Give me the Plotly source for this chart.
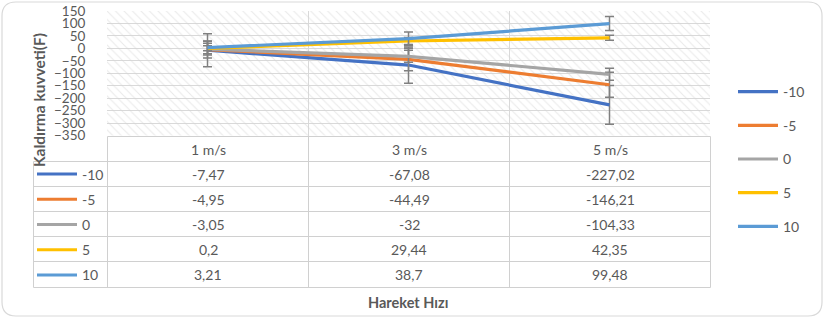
import plotly.graph_objects as go

categories = ["1 m/s", "3 m/s", "5 m/s"]
series_names = ["-10", "-5", "0", "5", "10"]
values = {
    "-10": [-7.47, -67.08, -227.02],
    "-5": [-4.95, -44.49, -146.21],
    "0": [-3.05, -32, -104.33],
    "5": [0.2, 29.44, 42.35],
    "10": [3.21, 38.7, 99.48],
}
errors = {
    "-10": [66, 73, 78],
    "-5": [34, 45, 50],
    "0": [24, 24, 24],
    "5": [10, 14, 10],
    "10": [25, 27, 28],
}
colors = {"-10": "#4472C4", "-5": "#ED7D31", "0": "#A5A5A5", "5": "#FFC000", "10": "#5B9BD5"}
y_min, y_max, y_step = -350, 150, 50

W, H = 825, 319
FONT = "Lato"
TXT = "#595959"
GRID = "#d9d9d9"

def px(x):
    return x / W

def py(y):
    return 1 - y / H

fig = go.Figure()

# hatched plot background
fig.add_trace(go.Bar(
    x=categories, y=[y_max - y_min] * len(categories), base=[y_min] * len(categories),
    width=1, marker=dict(color="rgba(0,0,0,0)", line=dict(width=0),
                         pattern=dict(shape="\\", fgcolor="#d4d4d4", bgcolor="rgba(0,0,0,0)",
                                      size=6, solidity=0.18)),
    showlegend=False, hoverinfo="skip"))

for name in series_names:
    fig.add_trace(go.Scatter(
        x=categories, y=values[name], mode="lines", name=name,
        line=dict(color=colors[name], width=3.2),
        error_y=dict(type="data", array=errors[name], visible=True,
                     color="#808080", thickness=1.5, width=4.5),
        legendgroup=name, legend="legend"))

# keys in the data table
for name in series_names:
    fig.add_trace(go.Scatter(
        x=[None], y=[None], mode="lines", name=name,
        line=dict(color=colors[name], width=3),
        legendgroup="t" + name, legend="legend2", hoverinfo="skip"))

plot_l, plot_r, plot_t, plot_b = 107, 710, 11, 135.5
row_edges = [136.5, 161.5, 186.5, 211.5, 236.5, 261.5, 287.5]
col_edges = [107.5, 308.5, 509.5, 710.5]
key_l = 33.5

shapes = []
# rounded outer border
r = 14
x0, y0, x1, y1 = 2, 2, 822, 316
path = (f"M {px(x0 + r)} {py(y0)} L {px(x1 - r)} {py(y0)} Q {px(x1)} {py(y0)} {px(x1)} {py(y0 + r)} "
        f"L {px(x1)} {py(y1 - r)} Q {px(x1)} {py(y1)} {px(x1 - r)} {py(y1)} "
        f"L {px(x0 + r)} {py(y1)} Q {px(x0)} {py(y1)} {px(x0)} {py(y1 - r)} "
        f"L {px(x0)} {py(y0 + r)} Q {px(x0)} {py(y0)} {px(x0 + r)} {py(y0)} Z")
shapes.append(dict(type="path", xref="paper", yref="paper", path=path,
                   line=dict(color="#d9d9d9", width=1.2)))

# table grid
for i, yy in enumerate(row_edges):
    xs = col_edges[0] if i == 0 else key_l
    shapes.append(dict(type="line", xref="paper", yref="paper", x0=px(xs), x1=px(col_edges[-1]),
                       y0=py(yy), y1=py(yy), line=dict(color="#d0d0d0", width=1)))
for xx in col_edges:
    shapes.append(dict(type="line", xref="paper", yref="paper", x0=px(xx), x1=px(xx),
                       y0=py(row_edges[0]), y1=py(row_edges[-1]), line=dict(color="#d0d0d0", width=1)))
shapes.append(dict(type="line", xref="paper", yref="paper", x0=px(key_l), x1=px(key_l),
                   y0=py(row_edges[1]), y1=py(row_edges[-1]), line=dict(color="#d0d0d0", width=1)))

annotations = []
def fmt(v):
    s = f"{v:.2f}".rstrip("0").rstrip(".")
    return s.replace(".", ",")

def ann(x, y, text, size=14, **kw):
    d = dict(x=px(x), y=py(y), xref="paper", yref="paper", text=text, showarrow=False,
             xanchor="center", yanchor="middle", font=dict(family=FONT, size=size, color=TXT))
    d.update(kw)
    return d

for j, cat in enumerate(categories):
    cx = (col_edges[j] + col_edges[j + 1]) / 2
    cy = (row_edges[0] + row_edges[1]) / 2
    annotations.append(ann(cx, cy, cat))
    for i, name in enumerate(series_names):
        cy = (row_edges[i + 1] + row_edges[i + 2]) / 2
        annotations.append(ann(cx, cy, fmt(values[name][j])))

annotations.append(ann(408, 302, "<b>Hareket Hızı</b>", size=14.5))
annotations.append(ann(39, 100, "<b>Kaldırma kuvveti(F)</b>", size=15.5, textangle=-90))

fig.update_layout(
    width=W, height=H, margin=dict(l=0, r=0, t=0, b=0, autoexpand=False),
    paper_bgcolor="white", plot_bgcolor="white",
    barmode="overlay", bargap=0,
    font=dict(family=FONT, color=TXT),
    xaxis=dict(domain=[px(plot_l), px(plot_r)], type="category", categoryorder="array",
               categoryarray=categories, tickson="boundaries", showgrid=True, gridcolor=GRID,
               gridwidth=1, showticklabels=False, ticks="", range=[-0.5, 2.5], fixedrange=True,
               showline=False, zeroline=False, automargin=False),
    yaxis=dict(domain=[py(plot_b), py(plot_t)], range=[y_min, y_max], dtick=y_step,
               tick0=0, showgrid=True, gridcolor=GRID, zeroline=True, zerolinecolor=GRID,
               zerolinewidth=1, ticks="outside", ticklen=18, tickcolor="rgba(0,0,0,0)",
               tickfont=dict(family=FONT, size=13.5, color=TXT), showline=False, automargin=False),
    legend=dict(x=px(733), y=py(76), xanchor="left", yanchor="top",
                font=dict(family=FONT, size=14, color=TXT), tracegroupgap=12.5,
                bgcolor="rgba(0,0,0,0)", itemwidth=40),
    legend2=dict(x=px(32), y=py(158.5), xanchor="left", yanchor="top",
                 font=dict(family=FONT, size=14, color=TXT), tracegroupgap=4,
                 bgcolor="rgba(0,0,0,0)", itemwidth=40),
    shapes=shapes, annotations=annotations, showlegend=True,
)

fig.write_html("out.html")
